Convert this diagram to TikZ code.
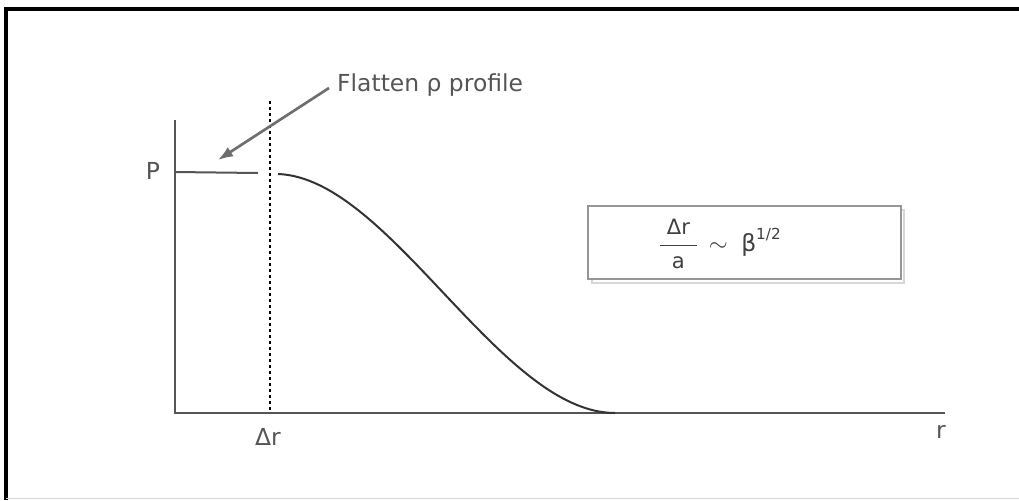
\documentclass[tikz,border=0pt]{standalone}
\usepackage{amsmath}
\usepackage{fontspec}
\setmainfont{DejaVu Sans}
\usetikzlibrary{positioning,arrows.meta}
\definecolor{AxisGray}{RGB}{85,85,85}
\definecolor{ArrowGray}{RGB}{110,110,110}
\definecolor{BoxGray}{RGB}{150,150,150}
\definecolor{ShadowGray}{RGB}{215,215,215}

\begin{document}
\begin{tikzpicture}[x=0.03cm,y=-0.03cm,
  axisline/.style={draw=AxisGray,line width=0.075cm},
  lbl/.style={font=\fontsize{20}{23}\selectfont,text=AxisGray,inner sep=0pt}]
  \useasboundingbox (0,0) rectangle (1019,500);
  % outer frame
  \draw[line width=0.1cm,black] (6,500) -- (6,9) -- (1019,9);
  \draw[line width=0.03cm,ShadowGray] (6,498) -- (1019,498);
  % axes
  \coordinate (O) at (175,413);
  \coordinate (ytop) at (175,120);
  \coordinate (xend) at (945,413);
  \draw[axisline] (ytop) -- (O) -- (xend);
  \node[lbl] (P) at (153,171) {P};
  \node[lbl] (r) at (941,432) {r};
  \node[lbl] (dr) at (268,437) {Δr};
  % flat part and profile
  \coordinate (f0) at (175,172);
  \coordinate (f1) at (258,173);
  \draw[line width=0.06cm,AxisGray] (f0) -- (f1);
  \coordinate (c0) at (278,174);
  \coordinate (c1) at (615,413);
  \draw[line width=0.06cm,black!80] (c0) .. controls (390,178) and (500,413) .. (c1);
  % dotted separator
  \coordinate (d0) at (270,101);
  \coordinate (d1) at (270,413);
  \draw[line width=0.045cm,dash pattern=on 0.1cm off 0.08cm,black] (d0) -- (d1);
  % annotation
  \node[lbl,anchor=west] (flat) at (337,85) {Flatten ρ profile};
  \coordinate (tip) at (218,160);
  \draw[-{Latex[length=0.45cm,width=0.33cm]},line width=0.08cm,ArrowGray] (flat.west) ++(-8,3) -- (tip);
  % scaling box
  \draw[line width=0.08cm,ShadowGray] (592,210) rectangle (904,283);
  \node[draw=BoxGray,line width=0.07cm,fill=white,minimum width=9.39cm,minimum height=2.19cm,anchor=north west] (box) at (587,205) {};
  \node[lbl,text=black!75] (law) at (720,244) {$\dfrac{\;\mbox{\fontsize{18}{20}\selectfont Δr}\;}{\mbox{\fontsize{18}{20}\selectfont a}}\,\sim\;\mbox{\fontsize{20}{22}\selectfont β}^{\mbox{\fontsize{13}{15}\selectfont 1/2}}$};
\end{tikzpicture}
\end{document}
